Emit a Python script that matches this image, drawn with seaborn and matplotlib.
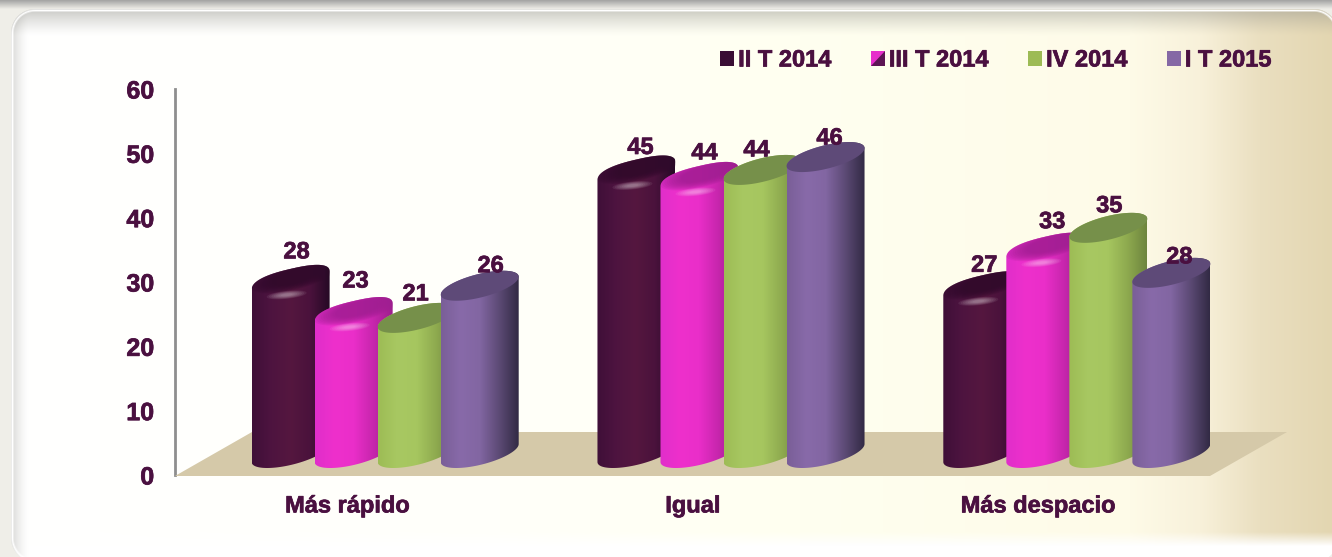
import numpy as np
import pandas as pd
import seaborn as sns
import matplotlib.pyplot as plt
import matplotlib.patheffects as pe
from matplotlib.colors import LinearSegmentedColormap, to_rgb
from matplotlib.legend_handler import HandlerBase
from matplotlib.patches import Patch, Polygon, Rectangle
from matplotlib.text import Text

categorias = ["Más rápido", "Igual", "Más despacio"]
periodos = ["II T 2014", "III T 2014", "IV 2014", "I T 2015"]
ii_t_2014 = [28, 45, 27]
iii_t_2014 = [23, 44, 33]
iv_2014 = [21, 44, 35]
i_t_2015 = [26, 46, 28]

# colores de cada cilindro: degradado izquierda -> derecha, tapa, y si tiene bisel
gradientes = [
    ["#3f0f38", "#4e1440", "#55173f", "#4a123c", "#260925"],
    ["#e02eca", "#ee30cc", "#ea2ec9", "#c726ad", "#9c1f8c"],
    ["#9dbc55", "#a8c862", "#a6c65f", "#8eaa4f", "#6e853e"],
    ["#7a5f98", "#886aa9", "#8266a2", "#5c4a75", "#322a44"],
]
tapas = ["#300a2b", "#a01e92", "#76904a", "#5e4a78"]
bisel = [True, True, False, False]
swatch = ["#3a0d34", "#e62ecb", "#9dbb55", "#8568a5"]
texto = "#4a1040"

# ajuste fino de las etiquetas (pixeles)
nudge_x = [[6, 4, 2], [2, 5, 7], [-1, -6, 1], [11, 4, 8]]
nudge_y = [[0, 5, 7], [-3, 4, 2], [-3, 1, -1], [1, 2, 5]]

W, H = 1332, 557
PROF_X, PROF_Y = 77, 44  # profundidad del piso
RADIO, ELIP_S, ELIP_B = 39, 9, 12

df = pd.DataFrame({
    "categoria": categorias * 4,
    "periodo": np.repeat(periodos, 3),
    "valor": ii_t_2014 + iii_t_2014 + iv_2014 + i_t_2015,
})

sns.set_theme(style="white")
plt.rcParams["font.family"] = ["Liberation Sans", "DejaVu Sans"]
plt.rcParams["font.weight"] = "bold"

fig = plt.figure(figsize=(W / 100, H / 100), dpi=100)


# fondo: panel redondeado con degradado crema
def fondo():
    yy, xx = np.mgrid[0:H, 0:W] + 0.5
    stops = [0, 500, 800, 1130, 1200, 1260, 1332]
    cols = np.array([to_rgb(c) for c in
                     ["#ffffff", "#fffffa", "#fffff0", "#fefbe8", "#f8f1da", "#eadfc0", "#e3d6b1"]])
    base = np.stack([np.interp(xx, stops, cols[:, i]) for i in range(3)], axis=-1)

    # abajo se aclara
    k = np.clip((yy - 532) / 14, 0, 1)[..., None]
    base = base * (1 - k) + k

    # sombra interior arriba e izquierda
    sombra = 0.42 * np.clip(1 - (yy - 12) / 24, 0, 1) ** 1.3 + 0.3 * np.clip(1 - (xx - 13) / 16, 0, 1) ** 1.5
    gris = np.array(to_rgb("#8f8f88"))
    sombra = np.clip(sombra, 0, 0.6)[..., None]
    base = base * (1 - sombra) + gris * sombra

    # rectangulo redondeado
    x0, x1, y0, y1, r = 11, 1338, 9, 562, 24
    qx = np.abs(xx - (x0 + x1) / 2) - ((x1 - x0) / 2 - r)
    qy = np.abs(yy - (y0 + y1) / 2) - ((y1 - y0) / 2 - r)
    d = r - np.hypot(np.maximum(qx, 0), np.maximum(qy, 0)) - np.minimum(np.maximum(qx, qy), 0)

    borde = np.clip(1 - np.abs(d - 1.5) / 1.8, 0, 1)[..., None]
    img = base * (1 - borde) + np.array([1, 1, 1]) * borde

    afuera = np.ones((H, W, 3)) * np.array(to_rgb("#efeee8"))
    arriba = np.clip(yy / 9, 0, 1)[..., None]
    afuera = afuera * arriba + np.array(to_rgb("#a2a2a2")) * (1 - arriba)
    m = np.clip(d + 0.5, 0, 1)[..., None]
    return img * m + afuera * (1 - m)


bg = fig.add_axes([0, 0, 1, 1], zorder=0)
bg.imshow(fondo(), aspect="auto", extent=(0, W, H, 0), interpolation="nearest")
bg.axis("off")

# ejes principales
ax = fig.add_axes([175 / W, 1 - 475 / H, 1036 / W, 386 / H], zorder=1)
ax.patch.set_alpha(0)
sns.barplot(data=df, x="categoria", y="valor", hue="periodo", order=categorias, hue_order=periodos,
            width=0.73, gap=0, dodge=True, legend=False, ax=ax)
ax.set_xlim(-0.5, 2.5)
ax.set_ylim(0, 60)
ax.set_yticks(range(0, 61, 10))
ax.set_xlabel("")
ax.set_ylabel("")
sns.despine(ax=ax, bottom=True)
ax.spines["left"].set_color("#8e8e8e")
ax.spines["left"].set_linewidth(2)
ax.tick_params(axis="y", length=0, pad=15, labelsize=18, labelcolor=texto)
ax.tick_params(axis="x", length=0, pad=14, labelsize=17, labelcolor=texto)
for lab in ax.get_yticklabels():
    lab.set_verticalalignment("center_baseline")

# capa en pixeles para los cilindros
ov = fig.add_axes([0, 0, 1, 1], zorder=2)
ov.patch.set_alpha(0)
ov.axis("off")


def a_pixel(x, y):
    px, py = ax.transData.transform((x, y))
    return px, H - py


def elipse(cx, cy, a=RADIO, s=ELIP_S, b=ELIP_B, t0=0, t1=2 * np.pi, n=80, p=1):
    t = np.linspace(t0, t1, n)
    c = np.sign(np.cos(t)) * np.abs(np.cos(t)) ** p
    o = np.sign(np.sin(t)) * np.abs(np.sin(t)) ** p
    return np.column_stack([cx + a * c, cy - s * c - b * o])


def cilindro(cx, y_top, y_bot, serie, z):
    frente = elipse(cx, y_bot, t0=np.pi, t1=2 * np.pi)
    atras = elipse(cx, y_top, t0=0, t1=np.pi, p=0.8 if bisel[serie] else 1)
    cuerpo = Polygon(np.vstack([frente, atras]), closed=True, fc="none", ec="none", zorder=z)
    ov.add_patch(cuerpo)
    cmap = LinearSegmentedColormap.from_list("g", gradientes[serie])
    im = ov.imshow(np.linspace(0, 1, 128)[None, :], cmap=cmap, aspect="auto", zorder=z,
                   extent=(cx - RADIO, cx + RADIO, y_bot + 30, y_top - 30), interpolation="bilinear")
    im.set_clip_path(cuerpo)

    if bisel[serie]:
        # tapa redondeada: oscura al centro y brillo delante
        for f in np.linspace(1.1, 0.55, 10):
            capa = Polygon(elipse(cx + 3, y_top - 4, RADIO * f, ELIP_S * f, ELIP_B * f), fc=tapas[serie],
                           ec="none", alpha=0.17, zorder=z + 0.1)
            ov.add_patch(capa)
            capa.set_clip_path(cuerpo)
        for f in np.linspace(1, 0.3, 7):
            capa = Polygon(elipse(cx - 4, y_top + 14, 20 * f, 2 * f, 4 * f), fc="#ffffff",
                           ec="none", alpha=0.07, zorder=z + 0.2)
            ov.add_patch(capa)
            capa.set_clip_path(cuerpo)
    else:
        ov.add_patch(Polygon(elipse(cx, y_top), fc=tapas[serie], ec="none", zorder=z + 0.1))


# piso
x_izq, y_piso = a_pixel(-0.5, 0)
x_der, _ = a_pixel(2.5, 0)
ov.add_patch(Polygon([(x_izq, y_piso + 1), (x_der - 1, y_piso + 1), (x_der - 1 + PROF_X, y_piso + 1 - PROF_Y),
                      (x_izq + PROF_X, y_piso + 1 - PROF_Y)], fc="#d5c9a9", ec="none", zorder=1))

# cada barra de seaborn se vuelve un cilindro
z = 2
for serie, cont in enumerate(ax.containers):
    for g, barra in enumerate(cont):
        barra.set_visible(False)
        x_c = barra.get_x() + barra.get_width() / 2
        px, y_val = a_pixel(x_c, barra.get_height())
        _, y_cero = a_pixel(x_c, 0)
        cx = px + PROF_X / 2 - 1 + g * 0.5
        caida = 8 if bisel[serie] else 0
        y_top = y_val - PROF_Y / 2 + caida
        y_bot = y_cero - PROF_Y / 2
        cilindro(cx, y_top, y_bot, serie, z + g * 10 + serie)
        ov.text(cx + nudge_x[serie][g], y_val - 43 + nudge_y[serie][g], f"{barra.get_height():.0f}",
                ha="center", va="center", fontsize=17, color=texto, zorder=100)


# leyenda, los dos primeros cuadros llevan un bisel
class HandlerBisel(HandlerBase):
    def create_artists(self, legend, orig, xd, yd, width, height, fontsize, trans):
        cuadro = Rectangle((-xd, -yd), width, height, fc=orig.get_facecolor(), ec="none", transform=trans)
        if orig.get_label() == "bisel":
            tri = Polygon([(-xd, -yd), (-xd + width, -yd), (-xd + width, -yd + height)], fc="#3b0f36", alpha=0.8,
                          ec="none", transform=trans)
            return [cuadro, tri]
        return [cuadro]


handles = [Patch(fc=c, label="bisel" if b else "plano") for c, b in zip(swatch, bisel)]
ov.legend(handles, periodos, ncol=4, loc="center left", bbox_to_anchor=(720, 60), bbox_transform=ov.transData,
          frameon=False, fontsize=17, labelcolor=texto, handlelength=0.6, handleheight=0.6, handletextpad=0.17,
          columnspacing=1.65, borderpad=0, borderaxespad=0, handler_map={Patch: HandlerBisel()})

ov.set_xlim(0, W)
ov.set_ylim(H, 0)

# el texto original se ve un poco mas grueso
for t in fig.findobj(Text):
    t.set_path_effects([pe.withStroke(linewidth=0.5, foreground=texto)])

fig.savefig("out.png", dpi=100)
